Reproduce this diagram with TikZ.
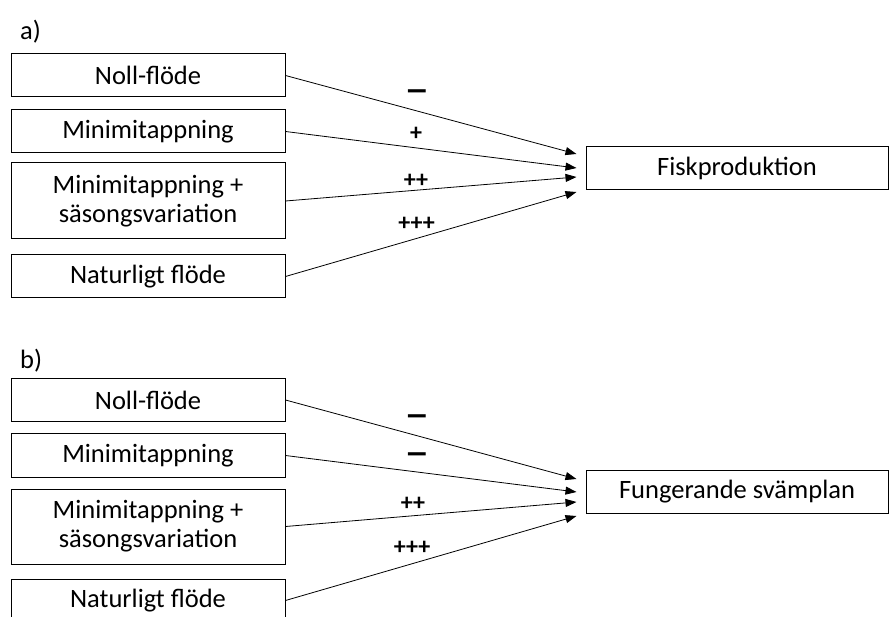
\documentclass[tikz,border=0pt]{standalone}
\usepackage{fontspec}
\usepackage{graphicx}
\setmainfont{Carlito}
\usetikzlibrary{arrows.meta}
\newcommand{\widedash}{\scalebox{1.4}[1]{–}}
\begin{document}
\begin{tikzpicture}[x=1pt,y=-1pt,
  src/.style={draw,line width=1pt,rectangle,minimum width=274pt,minimum height=43pt,
    inner sep=0pt,align=center,font=\fontsize{26.5}{29}\selectfont},
  tgt/.style={draw,line width=1pt,rectangle,minimum width=302pt,minimum height=43pt,
    inner sep=0pt,align=center,font=\fontsize{26.5}{29}\selectfont},
  link/.style={line width=0.8pt,-{Triangle[length=11pt,width=8pt]}},
  sign/.style={inner sep=0pt,font=\bfseries\fontsize{24}{28}\selectfont},
  minus/.style={inner sep=0pt,font=\bfseries\fontsize{36}{40}\selectfont},
  panel/.style={inner sep=0pt,anchor=west,font=\fontsize{26.5}{30}\selectfont}]
\useasboundingbox (0,0) rectangle (889,617);
\clip (0,0) rectangle (889,617);

% panel a
\node[panel] (la) at (20,32) {a)};
\node[src] (a1) at (148,75.5) {Noll-flöde};
\node[src] (a2) at (148,131.5) {Minimitappning};
\node[src,minimum height=76pt] (a3) at (148,201) {Minimitappning +\\säsongsvariation};
\node[src] (a4) at (148,276.5) {Naturligt flöde};
\node[tgt] (fisk) at (737,168) {Fiskproduktion};

\draw[link] (a1.east) -- ([xshift=-9pt,yshift=14pt]fisk.west);
\draw[link] (a2.east) -- ([xshift=-9pt]fisk.west);
\draw[link] (a3.east) -- ([xshift=-9pt,yshift=-9pt]fisk.west);
\draw[link] (a4.east) -- ([xshift=-9pt,yshift=-24pt]fisk.west);

\node[minus] (sa1) at (417,96) {\widedash};
\node[sign] (sa2) at (416,134) {+};
\node[sign] (sa3) at (416,181) {++};
\node[sign] (sa4) at (416.5,224) {+++};

% panel b
\node[panel] (lb) at (20,361) {b)};
\node[src] (b1) at (148,400) {Noll-flöde};
\node[src] (b2) at (148,455.5) {Minimitappning};
\node[src,minimum height=75pt] (b3) at (148,526.5) {Minimitappning +\\säsongsvariation};
\node[src] (b4) at (148,600.5) {Naturligt flöde};
\node[tgt] (svamp) at (737,491.5) {Fungerande svämplan};

\draw[link] (b1.east) -- ([xshift=-9pt,yshift=12.5pt]svamp.west);
\draw[link] (b2.east) -- ([xshift=-9pt,yshift=-0.5pt]svamp.west);
\draw[link] (b3.east) -- ([xshift=-9pt,yshift=-10.5pt]svamp.west);
\draw[link] (b4.east) -- ([xshift=-9pt,yshift=-24.5pt]svamp.west);

\node[minus] (sb1) at (417,421) {\widedash};
\node[minus] (sb2) at (417,459) {\widedash};
\node[sign] (sb3) at (413,504) {++};
\node[sign] (sb4) at (412,548) {+++};
\end{tikzpicture}
\end{document}
